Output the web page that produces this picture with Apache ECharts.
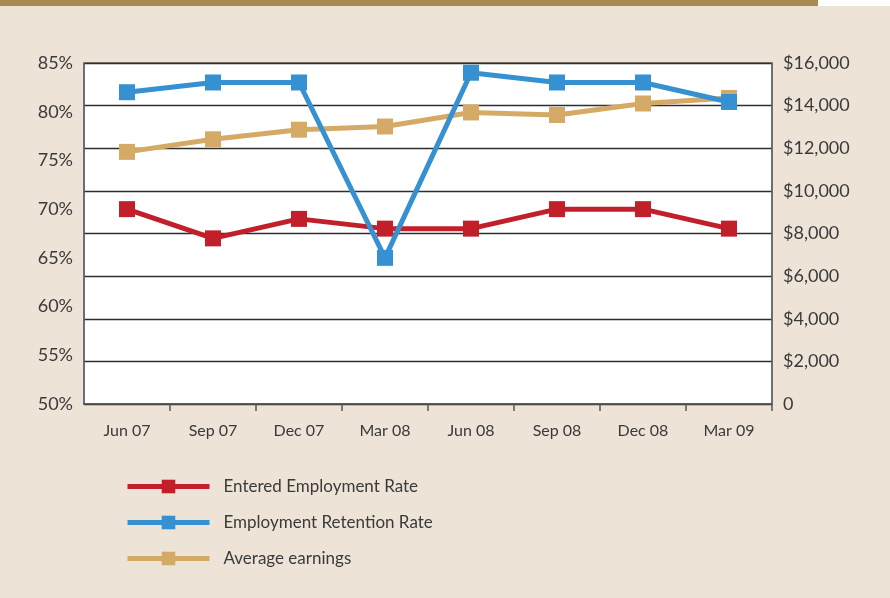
<!DOCTYPE html>
<html lang="en">
<head>
    <meta charset="UTF-8">
    <title>Employment rates and earnings</title>
    <script src="https://cdn.jsdelivr.net/npm/echarts@6/dist/echarts.min.js"></script>
    <style>
        html, body { margin: 0; padding: 0; background: #ede4d7; }
        #chart { width: 890px; height: 598px; }
    </style>
</head>
<body>
<div id="chart"></div>
<script>
    // quarters on the x axis
    var quarters = ['Jun 07', 'Sep 07', 'Dec 07', 'Mar 08', 'Jun 08', 'Sep 08', 'Dec 08', 'Mar 09'];
    // left axis (%)
    var enteredRate = [70, 67, 69, 68, 68, 70, 70, 68];
    var retentionRate = [82, 83, 83, 65, 84, 83, 83, 81];
    // right axis ($)
    var avgEarnings = [11830, 12420, 12870, 13020, 13680, 13560, 14100, 14360];

    var font = 'Lato, "Open Sans", sans-serif';
    var textColor = '#3a3a3a';

    function lineSeries(name, data, color, axis, z) {
        return {
            name: name,
            type: 'line',
            yAxisIndex: axis,
            data: data,
            z: z,
            symbol: 'rect',
            symbolSize: 16,
            showAllSymbol: true,
            lineStyle: { color: color, width: 5 },
            itemStyle: { color: color },
            emphasis: { disabled: true }
        };
    }

    var chart = echarts.init(document.getElementById('chart'));
    var option = {
        backgroundColor: '#ede4d7',
        animation: false,
        textStyle: { fontFamily: font },
        graphic: [{
            type: 'rect',
            left: 0, top: 0,
            shape: { width: 818, height: 6 },
            style: { fill: '#a98a53' }
        }, {
            type: 'rect',
            left: 818, top: 0,
            shape: { width: 72, height: 6 },
            style: { fill: '#ffffff' }
        }],
        grid: {
            left: 84, right: 118, top: 63, bottom: 194,
            show: true,
            backgroundColor: '#ffffff',
            borderColor: '#666666',
            borderWidth: 1.5
        },
        legend: {
            orient: 'vertical',
            left: 125,
            top: 478,
            padding: 0,
            itemWidth: 82,
            itemHeight: 17,
            itemGap: 19,
            selectedMode: false,
            lineStyle: { width: 5 },
            textStyle: { color: textColor, fontSize: 17, fontFamily: font, padding: [0, 0, 0, 9] },
            data: ['Entered Employment Rate', 'Employment Retention Rate', 'Average earnings']
        },
        xAxis: {
            type: 'category',
            data: quarters,
            boundaryGap: true,
            axisLine: { lineStyle: { color: '#555555', width: 1.5 } },
            axisTick: {
                show: true, length: 7,
                interval: function (index) { return index !== 0; },
                lineStyle: { color: '#555555', width: 1.5 }
            },
            axisLabel: { color: textColor, fontSize: 16, margin: 19, fontFamily: font },
            splitLine: { show: false }
        },
        yAxis: [{
            type: 'value',
            min: 50, max: 85, interval: 5,
            position: 'left',
            axisLine: { show: true, lineStyle: { color: '#666666', width: 1.5 } },
            axisTick: { show: false },
            splitLine: { show: false },
            axisLabel: { color: textColor, fontSize: 18, margin: 11, formatter: '{value}%', fontFamily: font }
        }, {
            type: 'value',
            min: 0, max: 16000, interval: 2000,
            position: 'right',
            axisLine: { show: true, lineStyle: { color: '#666666', width: 1.5 } },
            axisTick: { show: false },
            splitLine: { show: true, lineStyle: { color: '#2e2e2e', width: 1.3 } },
            axisLabel: {
                color: textColor, fontSize: 18, margin: 11, fontFamily: font,
                formatter: function (v) {
                    return v === 0 ? '0' : '$' + v.toLocaleString('en-US');
                }
            }
        }],
        series: [
            lineSeries('Entered Employment Rate', enteredRate, '#c1202a', 0, 3),
            lineSeries('Employment Retention Rate', retentionRate, '#3591d1', 0, 4),
            lineSeries('Average earnings', avgEarnings, '#d4aa66', 1, 2)
        ]
    };
    chart.setOption(option);
</script>
</body>
</html>
